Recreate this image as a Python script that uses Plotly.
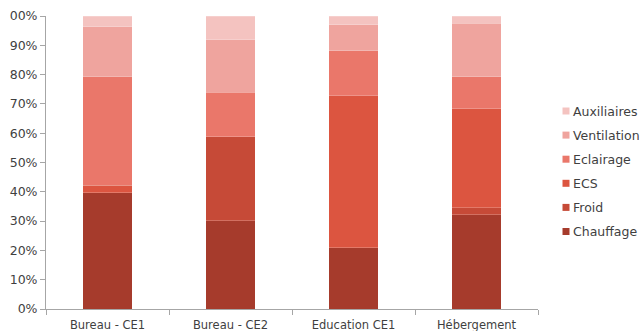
import plotly.graph_objects as go

# Building types
categories = ["Bureau - CE1", "Bureau - CE2", "Education CE1", "Hébergement"]

# Share of final energy use per end use (%), bottom to top
chauffage = [39.7, 30.2, 20.9, 32.2]
froid = [0.0, 28.6, 0.0, 2.3]
ecs = [2.6, 0.0, 51.9, 33.9]
eclairage = [36.9, 15.1, 15.4, 10.8]
ventilation = [17.1, 18.0, 8.9, 18.3]
auxiliaires = [3.7, 8.1, 2.9, 2.5]

series_names = ["Chauffage", "Froid", "ECS", "Eclairage", "Ventilation", "Auxiliaires"]
series_values = [chauffage, froid, ecs, eclairage, ventilation, auxiliaires]
series_colors = ["#A63B2C", "#C64A37", "#DC5540", "#EA776A", "#EFA49E", "#F4C3C0"]

# Y-axis tick labels
tick_values = [0, 10, 20, 30, 40, 50, 60, 70, 80, 90, 100]
tick_labels = ["0%", "10%", "20%", "30%", "40%", "50%", "60%", "70%", "80%", "90%", "00%"]

FONT = "DejaVu Sans"
TEXT_COLOR = "#3F3F3F"
AXIS_COLOR = "#A6A6A6"

fig = go.Figure()
for name, vals, col in zip(series_names, series_values, series_colors):
    fig.add_trace(go.Bar(
        x=categories, y=vals, name=name,
        marker=dict(color=col, line=dict(color="rgba(255,255,255,0.35)", width=0.6)),
        showlegend=False,
    ))

# Custom legend on the right: small squares with labels, top item = last series
annotations = []
shapes = []
for i, (name, col) in enumerate(reversed(list(zip(series_names, series_colors)))):
    y_px = 111 + i * 24.1
    y_paper = (331 - 22 - y_px) / (331 - 16 - 22)
    shapes.append(dict(
        type="rect", xref="paper", yref="paper",
        x0=(562.5 - 46) / 492, x1=(569.5 - 46) / 492,
        y0=y_paper - 3.5 / 293, y1=y_paper + 3.5 / 293,
        fillcolor=col, line=dict(width=0),
    ))
    annotations.append(dict(
        text=name, xref="paper", yref="paper",
        x=(571 - 46) / 492, y=y_paper, xanchor="left", yanchor="middle",
        showarrow=False, font=dict(family=FONT, size=12.5, color=TEXT_COLOR),
    ))

fig.update_layout(
    barmode="stack",
    bargap=0.6,
    width=640, height=331,
    margin=dict(l=46, r=102, t=16, b=22),
    paper_bgcolor="white", plot_bgcolor="white",
    font=dict(family=FONT, size=11, color=TEXT_COLOR),
    annotations=annotations,
    shapes=shapes,
)
fig.update_xaxes(
    showline=True, linecolor=AXIS_COLOR, linewidth=1,
    ticks="outside", ticklen=5, tickcolor=AXIS_COLOR, tickson="boundaries",
    showgrid=False, automargin=False, ticklabelstandoff=5,
    tickfont=dict(family=FONT, size=11.5, color=TEXT_COLOR),
)
fig.update_yaxes(
    range=[0, 100], tickvals=tick_values, ticktext=tick_labels,
    showline=True, linecolor=AXIS_COLOR, linewidth=1,
    ticks="outside", ticklen=5, tickcolor=AXIS_COLOR,
    showgrid=False, zeroline=False, automargin=False,
    tickfont=dict(family=FONT, size=12.5, color=TEXT_COLOR),
)

fig.write_html("out.html")
